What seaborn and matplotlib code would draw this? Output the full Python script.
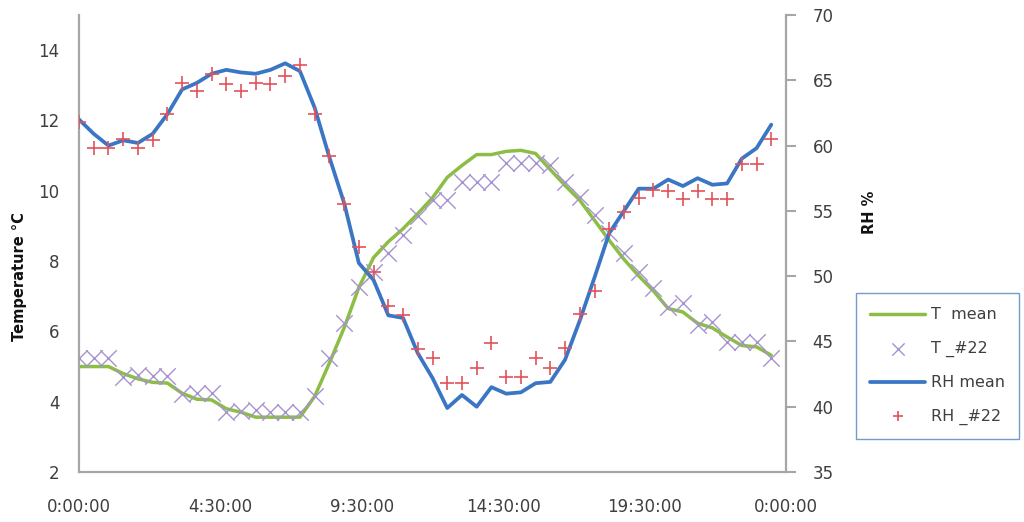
import numpy as np
import pandas as pd
import matplotlib
matplotlib.use("Agg")
import matplotlib.pyplot as plt
import seaborn as sns

sns.set_theme(style="white")
plt.rcParams["font.family"] = ["DejaVu Sans"]

# ---- data (30-minute readings over one day) ----
time_h = np.arange(0, 24, 0.5)

t_mean = [5.0, 5.0, 5.0, 4.8, 4.65, 4.55, 4.53, 4.24, 4.07, 4.05, 3.8, 3.7,
          3.56, 3.56, 3.56, 3.56, 4.15, 5.1, 6.1, 7.25, 8.1, 8.55, 8.92, 9.35,
          9.8, 10.38, 10.72, 11.03, 11.03, 11.12, 11.15, 11.06, 10.6, 10.15, 9.73, 9.16,
          8.59, 8.05, 7.58, 7.15, 6.65, 6.55, 6.23, 6.1, 5.84, 5.6, 5.56, 5.32]

t_22 = [5.25, 5.25, 5.25, 4.7, 4.75, 4.73, 4.73, 4.22, 4.24, 4.24, 3.7, 3.73,
        3.75, 3.72, 3.72, 3.72, 4.17, 5.24, 6.25, 7.25, 7.7, 8.22, 8.73, 9.27,
        9.75, 9.73, 10.24, 10.24, 10.24, 10.78, 10.78, 10.78, 10.72, 10.24, 9.81, 9.3,
        8.79, 8.23, 7.7, 7.22, 6.69, 6.8, 6.18, 6.27, 5.7, 5.7, 5.7, 5.24]

rh_mean = [62.0, 60.9, 60.0, 60.4, 60.2, 60.9, 62.4, 64.3, 64.8, 65.5, 65.8, 65.6,
           65.5, 65.8, 66.3, 65.7, 62.9, 59.1, 55.6, 51.0, 49.7, 47.0, 46.8, 44.1,
           42.2, 39.9, 40.9, 40.0, 41.5, 41.0, 41.1, 41.8, 41.9, 43.6, 46.6, 49.9,
           53.3, 55.0, 56.7, 56.7, 57.4, 56.9, 57.5, 57.0, 57.1, 59.0, 59.8, 61.6]

rh_22 = [61.8, 59.85, 59.85, 60.5, 59.85, 60.4, 62.4, 64.8, 64.2, 65.5, 64.7, 64.2,
         64.8, 64.7, 65.3, 66.2, 62.4, 59.2, 55.5, 52.2, 50.3, 47.7, 47.0, 44.4,
         43.7, 41.8, 41.8, 43.0, 44.9, 42.3, 42.3, 43.7, 43.0, 44.5, 47.1, 48.9,
         53.6, 54.9, 56.0, 56.6, 56.5, 55.9, 56.5, 55.9, 55.9, 58.6, 58.6, 60.5]

x_tick_pos = [0, 4.8, 9.6, 14.4, 19.2, 24]
x_tick_labels = ["0:00:00", "4:30:00", "9:30:00", "14:30:00", "19:30:00", "0:00:00"]
t_ticks = [2, 4, 6, 8, 10, 12, 14]
rh_ticks = [35, 40, 45, 50, 55, 60, 65, 70]

GREEN = "#8CBD45"
PURPLE = "#A692CF"
BLUE = "#3A76C4"
RED = "#E2525A"
AXIS = "#A6A6A6"
TXT = "#3F3F3F"

df = pd.DataFrame({"time": time_h, "t_mean": t_mean, "t_22": t_22,
                   "rh_mean": rh_mean, "rh_22": rh_22})

fig = plt.figure(figsize=(10.24, 5.22), dpi=100)
ax = fig.add_axes([79 / 1024, 1 - 472 / 522, (786 - 79) / 1024, (472 - 15) / 522])
ax2 = ax.twinx()

sns.lineplot(data=df, x="time", y="t_mean", ax=ax, color=GREEN, linewidth=2.5,
             label="T  mean", zorder=2)
sns.scatterplot(data=df, x="time", y="t_22", ax=ax, marker="x", s=140, color=PURPLE,
                linewidth=1.0, label="T _#22", zorder=3)
sns.lineplot(data=df, x="time", y="rh_mean", ax=ax2, color=BLUE, linewidth=2.7,
             label="RH mean", zorder=2)
sns.scatterplot(data=df, x="time", y="rh_22", ax=ax2, marker="+", s=110, color=RED,
                linewidth=1.2, label="RH _#22", zorder=3)

h1, l1 = ax.get_legend_handles_labels()
h2, l2 = ax2.get_legend_handles_labels()
for a in (ax, ax2):
    if a.get_legend() is not None:
        a.get_legend().remove()

ax.set_xlim(0, 24)
ax.set_ylim(2, 15)
ax2.set_ylim(35, 70)
ax.set_xticks(x_tick_pos)
ax.set_xticklabels(x_tick_labels)
ax.set_yticks(t_ticks)
ax2.set_yticks(rh_ticks)
ax.set_xlabel("")
ax.set_ylabel("")
ax2.set_ylabel("")
ax.grid(False)
ax2.grid(False)

for s in ("top", "right"):
    ax.spines[s].set_visible(False)
for s in ("left", "bottom"):
    ax.spines[s].set_color(AXIS)
    ax.spines[s].set_linewidth(1.6)
for s in ("top", "left", "bottom"):
    ax2.spines[s].set_visible(False)
ax2.spines["right"].set_color(AXIS)
ax2.spines["right"].set_linewidth(1.6)

ax.tick_params(axis="y", length=0, pad=14, labelsize=12, labelcolor=TXT)
ax.tick_params(axis="x", length=0, pad=19, labelsize=12, labelcolor=TXT)
ax2.tick_params(axis="y", length=7, width=1.5, color=AXIS, pad=12, labelsize=12,
                labelcolor=TXT)
# first date label sits slightly to the right of the axis corner in the original
ax.get_xticklabels()[0].set_x(0.25)

fig.text(20 / 1024, 1 - 277 / 522, "Temperature °C", rotation=90, fontweight="bold",
         fontsize=10.5, ha="center", va="center", color="#111111")
fig.text(870 / 1024, 1 - 212 / 522, "RH %", rotation=90, fontweight="bold",
         fontsize=10.5, ha="center", va="center", color="#111111")

leg = fig.legend(h1 + h2, l1 + l2, loc="upper left", bbox_to_anchor=(856 / 1024, 1 - 293 / 522),
                 frameon=True, fancybox=False, edgecolor="#4F81BD", fontsize=11.5,
                 labelspacing=1.15, handlelength=3.4, borderpad=0.9, handletextpad=0.4,
                 borderaxespad=0, markerscale=0.75)
leg.get_frame().set_linewidth(1.0)
for t in leg.get_texts():
    t.set_color(TXT)

fig.savefig("out.png", dpi=100)
